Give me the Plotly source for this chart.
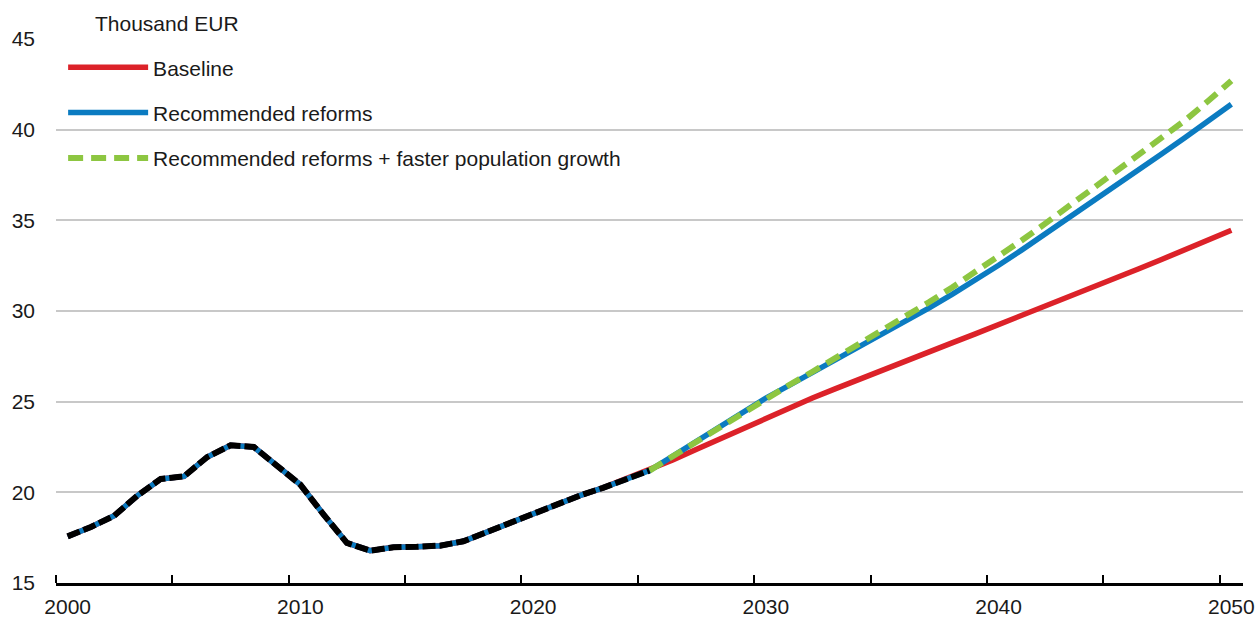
import plotly.graph_objects as go

# ---- data (thousand EUR) ----
hist_years = list(range(2000, 2026))
history = [17.57, 18.09, 18.71, 19.82, 20.74, 20.88, 21.95, 22.59, 22.50, 21.43,
           20.42, 18.77, 17.21, 16.78, 16.97, 17.00, 17.06, 17.30, 17.80, 18.35,
           18.86, 19.32, 19.82, 20.25, 20.75, 21.20]

proj_years = list(range(2025, 2051))
baseline_proj = [21.20, 21.78, 22.36, 22.94, 23.52, 24.10, 24.66, 25.20, 25.72, 26.24,
                 26.74, 27.24, 27.74, 28.24, 28.74, 29.24, 29.74, 30.24, 30.76, 31.28,
                 31.80, 32.32, 32.84, 33.36, 33.90, 34.45]
reforms_proj = [21.20, 22.00, 22.80, 23.60, 24.40, 25.20, 25.90, 26.60, 27.30, 28.00,
                28.70, 29.42, 30.16, 30.92, 31.70, 32.52, 33.37, 34.24, 35.12, 36.00,
                36.88, 37.76, 38.66, 39.56, 40.48, 41.40]
faster_proj = [21.20, 22.00, 22.80, 23.60, 24.40, 25.20, 25.92, 26.65, 27.40, 28.15,
               28.90, 29.68, 30.48, 31.30, 32.14, 33.00, 33.90, 34.82, 35.76, 36.70,
               37.64, 38.55, 39.50, 40.50, 41.58, 42.70]

x_label_years = [2000, 2010, 2020, 2030, 2040, 2050]
y_ticks = [15, 20, 25, 30, 35, 40, 45]

all_years = hist_years + proj_years[1:]
baseline = history + baseline_proj[1:]
reforms = history + reforms_proj[1:]

FONT = "Liberation Sans, Arial, sans-serif"
FS = 21
TXT = "#1a1a1a"
RED = "#dc2229"
BLUE = "#0b7bc1"
GREEN = "#8dc641"

fig = go.Figure()
fig.add_trace(go.Scatter(x=all_years, y=baseline, mode="lines", name="Baseline",
                         line=dict(color=RED, width=5.5), legendgroup="a"))
fig.add_trace(go.Scatter(x=all_years, y=reforms, mode="lines", name="Recommended reforms",
                         line=dict(color=BLUE, width=5.5), legendgroup="b"))
fig.add_trace(go.Scatter(x=proj_years, y=faster_proj, mode="lines",
                         name="Recommended reforms + faster population growth",
                         line=dict(color=GREEN, width=6, dash="15px,8px"), legendgroup="c"))
fig.add_trace(go.Scatter(x=hist_years, y=history, mode="lines", name="History",
                         line=dict(color="black", width=6, dash="13px,4px"), showlegend=False))

fig.update_layout(
    width=1256, height=617,
    margin=dict(l=56, r=13, t=39, b=34),
    paper_bgcolor="white", plot_bgcolor="white",
    font=dict(family=FONT, size=FS, color=TXT),
    showlegend=True,
    legend=dict(x=0.006, y=0.985, xanchor="left", yanchor="top",
                bgcolor="rgba(0,0,0,0)", itemwidth=80, tracegroupgap=15,
                font=dict(family=FONT, size=FS, color=TXT)),
    xaxis=dict(range=[1999.5, 2050.5], tickmode="array", tickvals=x_label_years,
               ticks="", showgrid=False, zeroline=False, automargin=False,
               showline=True, linecolor="black", linewidth=2.5,
               ticklabeloverflow="allow", ticklabelstandoff=3,
               tickfont=dict(family=FONT, size=FS, color=TXT),
               minor=dict(tickmode="array",
                          tickvals=[y - 0.5 for y in range(2000, 2051, 5)],
                          ticks="inside", ticklen=8, tickwidth=2, tickcolor="black",
                          showgrid=False)),
    yaxis=dict(range=[15, 45], tickmode="array", tickvals=y_ticks,
               showgrid=True, gridcolor="#c8c8c8", gridwidth=2,
               zeroline=False, showline=False, ticks="", automargin=False,
               ticklabelstandoff=20,
               tickfont=dict(family=FONT, size=FS, color=TXT)),
    annotations=[dict(text="Thousand EUR", xref="paper", yref="paper",
                      x=0.031, y=1.028, xanchor="left", yanchor="middle",
                      showarrow=False, font=dict(family=FONT, size=FS, color=TXT))],
)

fig.write_html(
    "out.html",
    config={"displayModeBar": False},
    post_script="document.body.style.margin='0px';document.body.style.overflow='hidden';",
)
